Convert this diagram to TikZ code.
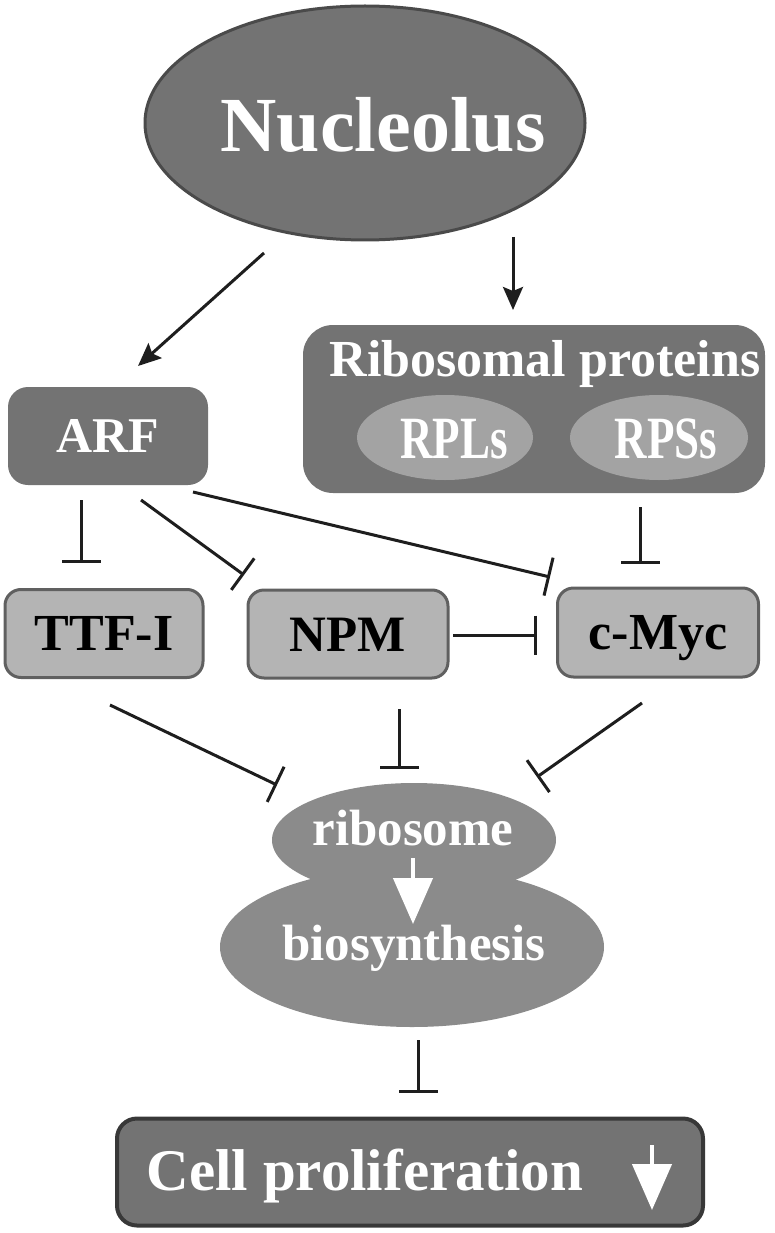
\documentclass[tikz,border=0pt]{standalone}
\usepackage{graphicx}
\usepackage{fontspec}
\setmainfont{Liberation Serif}
\usetikzlibrary{arrows.meta,shapes.geometric}
\definecolor{dark}{HTML}{737373}
\definecolor{darkedge}{HTML}{4A4A4A}
\definecolor{celledge}{HTML}{383838}
\definecolor{light}{HTML}{B4B4B4}
\definecolor{lightedge}{HTML}{606060}
\definecolor{mid}{HTML}{A3A3A3}
\definecolor{ribo}{HTML}{8B8B8B}
\definecolor{ink}{HTML}{1E1E1E}
\begin{document}
\begin{tikzpicture}[x=1pt,y=-1pt,
  txt/.style={font=\bfseries\fontsize{#1}{#1}\selectfont, inner sep=0pt},
  darkbox/.style={fill=dark, rounded corners=20pt, inner sep=0pt, text=white},
  lightbox/.style={fill=light, draw=lightedge, line width=3pt, rounded corners=16pt, inner sep=0pt, text=black},
  subell/.style={ellipse, fill=mid, inner sep=0pt, minimum height=85pt},
  act/.style={draw=ink, line width=3pt, -{Stealth[length=23pt,width=20pt,inset=4pt]}},
  inh/.style={draw=ink, line width=3pt, -{Bar[width=39pt,line width=3pt]}},
  whitearrow/.style={draw=white, line width=4.5pt, -{Triangle[length=46pt,width=39pt]}},
]
\useasboundingbox (0,0) rectangle (774,1233);

% Nucleolus
\node[ellipse, fill=dark, draw=darkedge, line width=3pt, minimum width=440pt, minimum height=234pt, inner sep=0pt] (nuc) at (365,123) {};
\node[txt=78, text=white, anchor=base] (nuctext) at (383,152) {Nucleolus};

% Ribosomal proteins
\node[darkbox, rounded corners=30pt, minimum width=462pt, minimum height=168pt] (rp) at (534,409) {};
\node[txt=52, text=white, anchor=base] (rptitle) at (545,376) {Ribosomal proteins};
\node[subell, minimum width=176pt] (rpl) at (445,437.5) {};
\node[subell, minimum width=178pt] (rps) at (659,437.5) {};
\node[txt=60, text=white, anchor=base] (rpltext) at (454,458) {\scalebox{0.75}[1]{RPLs}};
\node[txt=60, text=white, anchor=base] (rpstext) at (666,458) {\scalebox{0.75}[1]{RPSs}};

% ARF
\node[darkbox, minimum width=200pt, minimum height=98pt, txt=50, text height=33pt, text depth=0pt] (arf) at (108,436) {ARF};

% middle row
\node[lightbox, minimum width=198pt, minimum height=88pt, txt=52, text height=34pt, text depth=0pt] (ttf) at (104,633.5) {TTF-I};
\node[lightbox, minimum width=200pt, minimum height=88pt, txt=51, text height=34pt, text depth=0pt] (npm) at (348,634) {NPM};
\node[lightbox, minimum width=201pt, minimum height=89pt, txt=52, text height=34pt, text depth=0pt] (myc) at (658,632.5) {c-Myc};

% ribosome biosynthesis
\node[ellipse, fill=ribo, minimum width=284pt, minimum height=114pt, inner sep=0pt] (ribtop) at (414,840) {};
\node[ellipse, fill=ribo, minimum width=384pt, minimum height=160pt, inner sep=0pt] (ribbot) at (412,947) {};
\node[txt=51, text=white, anchor=base] (ribtext) at (413,845) {ribosome};
\node[txt=51, text=white, anchor=base] (biotext) at (414,960) {biosynthesis};
\coordinate (ra1) at (413,858);
\coordinate (ra2) at (413,924);
\draw[whitearrow] (ra1) -- (ra2);

% cell proliferation
\node[fill=dark, draw=celledge, line width=4pt, rounded corners=20pt, minimum width=586pt, minimum height=107pt, inner sep=0pt] (cell) at (410,1172) {};
\node[txt=59, text=white, anchor=base] (celltext) at (365,1190) {Cell proliferation};
\coordinate (ca1) at (652,1145);
\coordinate (ca2) at (652,1210);
\draw[whitearrow] (ca1) -- (ca2);

% connector end points
\coordinate (n1) at (264,253);  \coordinate (n1e) at (138,366);
\coordinate (n2) at (513,237);  \coordinate (n2e) at (513,310);
\coordinate (a1) at (81,500);   \coordinate (a1e) at (81,563);
\coordinate (a2) at (141,500);  \coordinate (a2e) at (244,575);
\coordinate (a3) at (193,492);  \coordinate (a3e) at (550,577);
\coordinate (r1) at (640,507);  \coordinate (r1e) at (640,564);
\coordinate (p1) at (453,635);  \coordinate (p1e) at (537,635);
\coordinate (t1) at (110,705);  \coordinate (t1e) at (277,785);
\coordinate (p2) at (399,709);  \coordinate (p2e) at (399,769);
\coordinate (m1) at (642,703);  \coordinate (m1e) at (537,777);
\coordinate (b1) at (418,1040); \coordinate (b1e) at (418,1093);

\draw[act] (n1) -- (n1e);
\draw[act] (n2) -- (n2e);
\draw[inh] (a1) -- (a1e);
\draw[inh] (a2) -- (a2e);
\draw[inh] (a3) -- (a3e);
\draw[inh] (r1) -- (r1e);
\draw[inh] (p1) -- (p1e);
\draw[inh] (t1) -- (t1e);
\draw[inh] (p2) -- (p2e);
\draw[inh] (m1) -- (m1e);
\draw[inh] (b1) -- (b1e);
\end{tikzpicture}
\end{document}
